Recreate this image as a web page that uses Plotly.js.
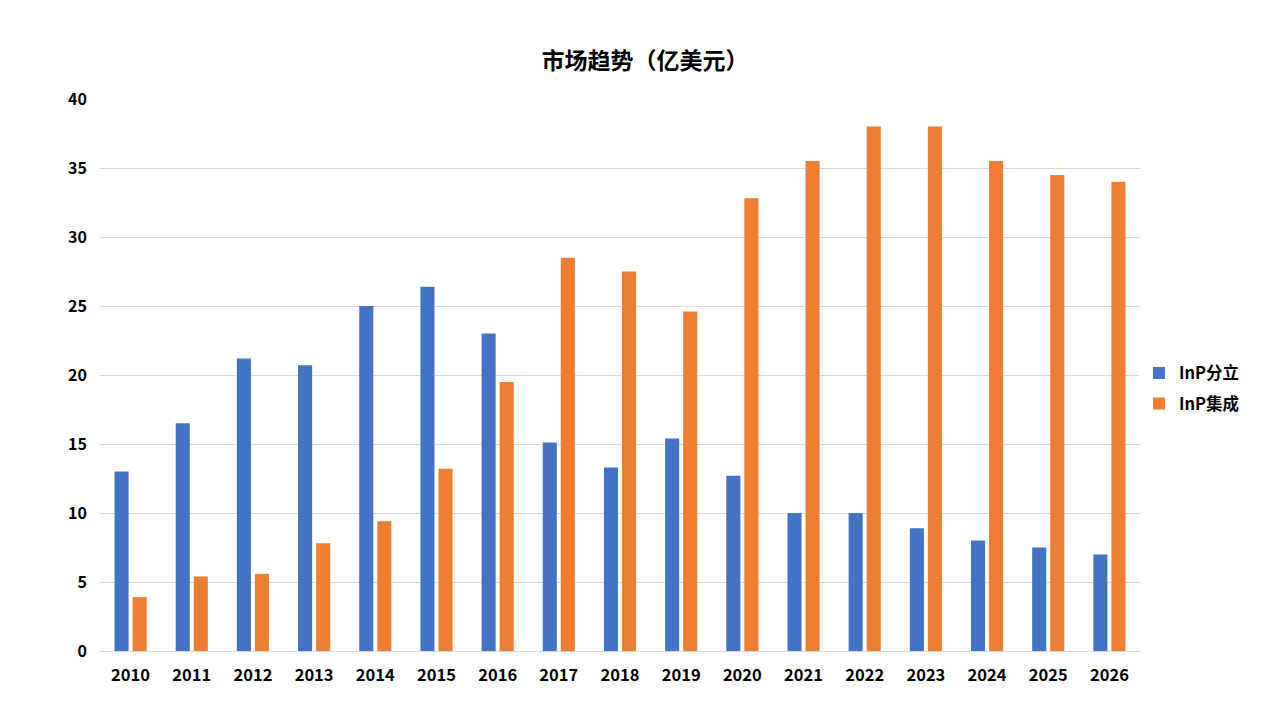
<!DOCTYPE html>
<html>
<head>
<meta charset="utf-8">
<script src="https://cdn.plot.ly/plotly-3.0.1.min.js"></script>
<style>html,body{margin:0;padding:0;background:#fff;}#chart{width:1280px;height:720px;}</style>
</head>
<body>
<div id="chart"></div>
<script>
const years = ['2010','2011','2012','2013','2014','2015','2016','2017','2018','2019','2020','2021','2022','2023','2024','2025','2026'];
const discreteInP = [13, 16.5, 21.2, 20.7, 25, 26.4, 23, 15.1, 13.3, 15.4, 12.7, 10, 10, 8.9, 8, 7.5, 7];
const integratedInP = [3.9, 5.4, 5.6, 7.8, 9.4, 13.2, 19.5, 28.5, 27.5, 24.6, 32.8, 35.5, 38, 38, 35.5, 34.5, 34];
const seriesNames = ['InP分立', 'InP集成'];

const font = '"Noto Sans CJK SC", "Noto Sans", sans-serif';
const traces = [
  {type:'bar', name:seriesNames[0], legendgroup:'a', x:years, y:discreteInP, marker:{color:'#4472C4'}, hoverinfo:'x+y'},
  {type:'bar', name:seriesNames[1], legendgroup:'b', x:years, y:integratedInP, marker:{color:'#ED7D31'}, hoverinfo:'x+y'}
];
const layout = {
  width:1280, height:720,
  paper_bgcolor:'#ffffff', plot_bgcolor:'#ffffff',
  margin:{l:100, r:140, t:99, b:69},
  title:{text:'<b>市场趋势（亿美元）</b>', font:{family:font, size:23, color:'#000'}, x:0.504, xref:'container', xanchor:'center', y:0.915, yanchor:'middle'},
  barmode:'group', bargap:0.41, bargroupgap:0.22,
  xaxis:{type:'category', showgrid:false, showline:true, linecolor:'#d9d9d9', linewidth:1, ticks:'',
         ticklabelstandoff:9,
         tickfont:{family:font, size:16.5, color:'#000', weight:'bold'}},
  yaxis:{range:[0,40], dtick:5, tick0:0, showgrid:true, gridcolor:'#d9d9d9', gridwidth:1, zeroline:false,
         showline:false, ticks:'', ticklen:0, ticklabelstandoff:12,
         tickfont:{family:font, size:16, color:'#000', weight:'bold'}},
  legend:{x:0.999, xanchor:'left', y:0.476, yanchor:'middle', font:{family:font, size:16.5, color:'#000', weight:'bold'},
          tracegroupgap:6, itemwidth:30},
  font:{family:font}
};
Plotly.newPlot('chart', traces, layout, {displayModeBar:false, staticPlot:true});
</script>
</body>
</html>
